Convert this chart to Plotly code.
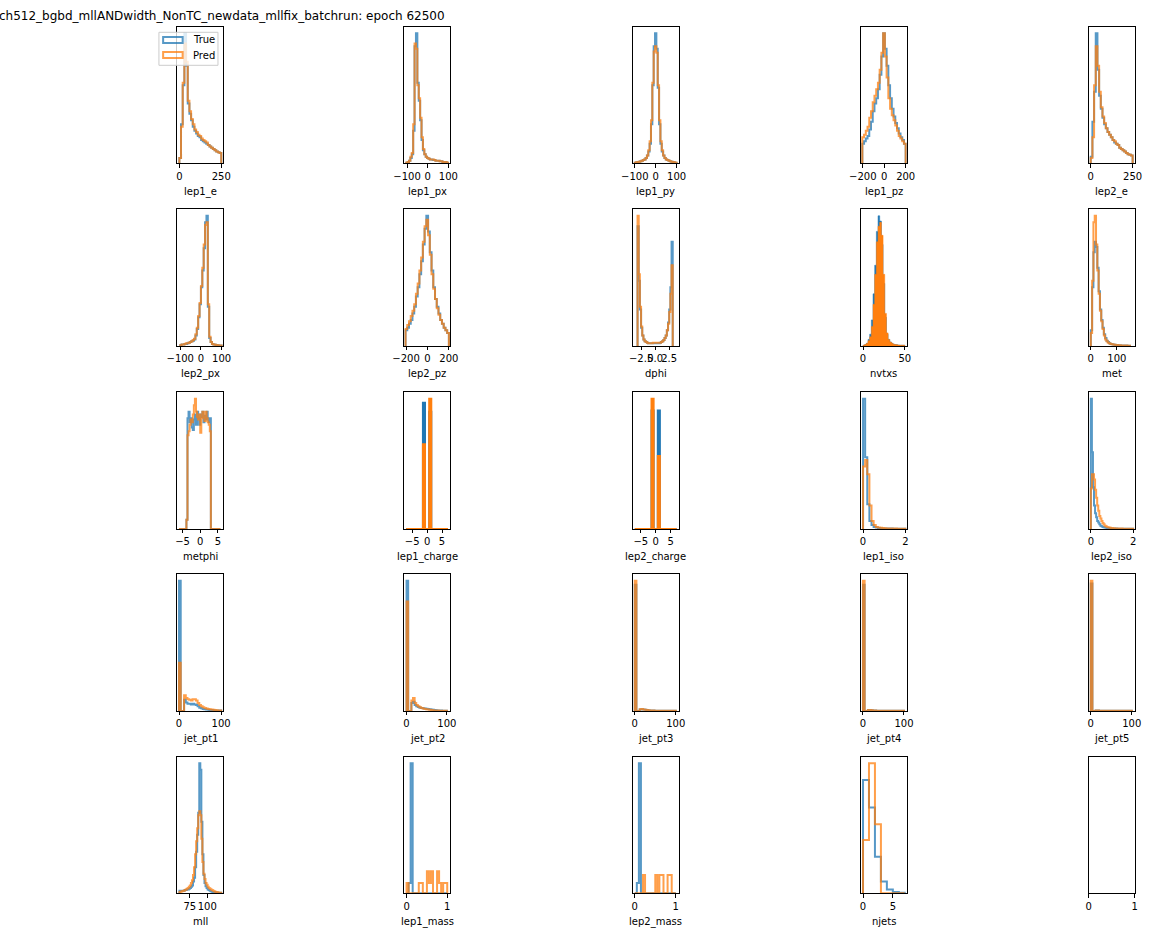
import numpy as np
import plotly.graph_objects as go

# ---------------- data (normalised bin heights) ----------------
variables = ["lep1_e", "lep1_px", "lep1_py", "lep1_pz", "lep2_e",
             "lep2_px", "lep2_pz", "dphi", "nvtxs", "met",
             "metphi", "lep1_charge", "lep2_charge", "lep1_iso", "lep2_iso",
             "jet_pt1", "jet_pt2", "jet_pt3", "jet_pt4", "jet_pt5",
             "mll", "lep1_mass", "lep2_mass", "njets"]

lep1_e_bins = (0, 250)
lep1_e_true = [0.04, 0.30, 0.60, 1.00, 0.75, 0.46, 0.38, 0.33, 0.28, 0.25, 0.23, 0.21, 0.20, 0.18, 0.17,
               0.16, 0.15, 0.14, 0.13, 0.12, 0.11, 0.10, 0.09, 0.085, 0.08]
lep1_e_pred = [0.04, 0.28, 0.62, 0.92, 0.78, 0.48, 0.40, 0.34, 0.30, 0.26, 0.24, 0.22, 0.21, 0.19, 0.18,
               0.17, 0.16, 0.14, 0.13, 0.12, 0.11, 0.10, 0.09, 0.085, 0.08]

lep1_px_bins = (-104, 98)
lep1_px_true = [0.005, 0.01, 0.02, 0.04, 0.07, 0.25, 0.90, 1.00, 0.62, 0.48, 0.33, 0.18, 0.10, 0.07, 0.05,
                0.04, 0.035, 0.03, 0.03, 0.025, 0.025, 0.02, 0.02, 0.02, 0.015, 0.015, 0.01, 0.01, 0.01, 0.005]
lep1_px_pred = [0.005, 0.01, 0.02, 0.05, 0.08, 0.30, 0.92, 0.88, 0.60, 0.50, 0.35, 0.20, 0.11, 0.07, 0.05,
                0.04, 0.035, 0.03, 0.03, 0.03, 0.025, 0.02, 0.02, 0.02, 0.015, 0.015, 0.01, 0.01, 0.01, 0.005]

lep1_py_bins = (-100, 100)
lep1_py_true = [0.005, 0.008, 0.01, 0.012, 0.015, 0.02, 0.025, 0.03, 0.04, 0.06, 0.09, 0.15, 0.30, 0.60, 0.90,
                1.00, 0.88, 0.58, 0.30, 0.15, 0.09, 0.06, 0.04, 0.03, 0.025, 0.02, 0.015, 0.012, 0.01, 0.008, 0.005]
lep1_py_pred = [0.005, 0.008, 0.01, 0.012, 0.015, 0.02, 0.025, 0.03, 0.04, 0.06, 0.10, 0.17, 0.33, 0.62, 0.86,
                0.90, 0.85, 0.60, 0.33, 0.17, 0.10, 0.06, 0.04, 0.03, 0.025, 0.02, 0.015, 0.012, 0.01, 0.008, 0.005]

lep1_pz_bins = (-205, 200)
lep1_pz_true = [0.15, 0.17, 0.19, 0.21, 0.26, 0.32, 0.40, 0.46, 0.50, 0.57, 0.68, 0.82, 1.00, 0.88, 0.75,
                0.60, 0.50, 0.42, 0.36, 0.31, 0.27, 0.23, 0.20, 0.18, 0.15]
lep1_pz_pred = [0.20, 0.22, 0.25, 0.28, 0.35, 0.40, 0.47, 0.52, 0.57, 0.62, 0.72, 0.85, 1.00, 0.82, 0.66,
                0.50, 0.42, 0.37, 0.33, 0.29, 0.25, 0.21, 0.19, 0.17, 0.15]

lep2_e_bins = (0, 250)
lep2_e_true = [0.05, 0.32, 0.55, 1.00, 0.72, 0.52, 0.42, 0.35, 0.30, 0.27, 0.24, 0.22, 0.20, 0.18, 0.16,
               0.15, 0.14, 0.12, 0.11, 0.10, 0.09, 0.08, 0.07, 0.065, 0.06]
lep2_e_pred = [0.04, 0.20, 0.60, 0.90, 0.75, 0.55, 0.43, 0.36, 0.31, 0.27, 0.24, 0.22, 0.20, 0.18, 0.17,
               0.15, 0.14, 0.12, 0.11, 0.10, 0.09, 0.08, 0.07, 0.065, 0.06]

lep2_px_bins = (-100, 100)
lep2_px_true = [0.005, 0.01, 0.01, 0.015, 0.015, 0.02, 0.025, 0.03, 0.035, 0.04, 0.05, 0.08, 0.13, 0.22, 0.32,
                0.45, 0.58, 0.75, 0.95, 1.00, 0.30, 0.06, 0.03, 0.015, 0.01, 0.008, 0.006, 0.005, 0.004, 0.003]
lep2_px_pred = [0.005, 0.01, 0.01, 0.015, 0.02, 0.02, 0.025, 0.03, 0.035, 0.045, 0.055, 0.09, 0.14, 0.23, 0.33,
                0.46, 0.60, 0.78, 0.93, 0.95, 0.32, 0.07, 0.03, 0.015, 0.01, 0.008, 0.006, 0.005, 0.004, 0.003]

lep2_pz_bins = (-205, 200)
lep2_pz_true = [0.12, 0.14, 0.17, 0.20, 0.25, 0.30, 0.38, 0.45, 0.55, 0.65, 0.78, 0.90, 1.00, 0.88, 0.72,
                0.58, 0.45, 0.36, 0.30, 0.25, 0.20, 0.17, 0.14, 0.12, 0.10]
lep2_pz_pred = [0.13, 0.16, 0.19, 0.23, 0.27, 0.32, 0.40, 0.48, 0.58, 0.68, 0.80, 0.92, 0.97, 0.85, 0.70,
                0.55, 0.44, 0.36, 0.29, 0.24, 0.20, 0.17, 0.14, 0.12, 0.10]

dphi_bins = (-3.14, 3.14)
dphi_true = [0.92, 0.50, 0.28, 0.14, 0.08, 0.05, 0.035, 0.03, 0.025, 0.02, 0.02, 0.02, 0.02, 0.02, 0.02,
             0.02, 0.02, 0.02, 0.02, 0.025, 0.03, 0.035, 0.045, 0.06, 0.08, 0.12, 0.18, 0.28, 0.45, 0.80]
dphi_pred = [1.00, 0.55, 0.30, 0.15, 0.08, 0.05, 0.035, 0.03, 0.025, 0.02, 0.02, 0.02, 0.02, 0.025, 0.025,
             0.025, 0.025, 0.025, 0.025, 0.025, 0.03, 0.035, 0.045, 0.06, 0.08, 0.12, 0.17, 0.26, 0.40, 0.62]

nvtxs_bins = (0, 50)
nvtxs_true = [0.005, 0.01, 0.02, 0.05, 0.09, 0.20, 0.40, 0.62, 0.88, 1.00, 0.96, 0.78, 0.48, 0.22, 0.09,
              0.05, 0.03, 0.02, 0.012, 0.01, 0.008, 0.006, 0.005, 0.005, 0.005]
nvtxs_pred = [0.005, 0.01, 0.02, 0.04, 0.07, 0.15, 0.32, 0.55, 0.80, 0.92, 0.95, 0.85, 0.55, 0.25, 0.10,
              0.05, 0.03, 0.02, 0.012, 0.01, 0.008, 0.006, 0.005, 0.005, 0.005]

met_bins = (0, 150)
met_true = [0.12, 0.45, 0.72, 0.80, 0.76, 0.60, 0.42, 0.28, 0.20, 0.14, 0.09, 0.06, 0.04, 0.03, 0.02,
            0.015, 0.012, 0.01, 0.008, 0.007, 0.006, 0.005, 0.005, 0.004, 0.004, 0.003, 0.003, 0.003, 0.002, 0.002]
met_pred = [0.10, 0.50, 0.95, 1.00, 0.78, 0.58, 0.40, 0.27, 0.19, 0.13, 0.08, 0.05, 0.035, 0.025, 0.02,
            0.015, 0.012, 0.01, 0.008, 0.007, 0.006, 0.005, 0.005, 0.004, 0.004, 0.003, 0.003, 0.003, 0.002, 0.002]

metphi_bins = (-6.0, 5.7)
metphi_true = [0, 0, 0, 0, 0, 0, 0, 0.07,
               0.85, 0.90, 0.82, 0.85, 0.78, 0.76, 0.84, 0.88, 0.80, 0.90, 0.85, 0.80, 0.88, 0.86, 0.90,
               0.82, 0.87, 0.84, 0.90, 0.85, 0.82, 0.85,
               0, 0, 0, 0, 0, 0, 0, 0, 0]
metphi_pred = [0, 0, 0, 0, 0, 0, 0, 0.07,
               0.72, 0.75, 0.80, 0.84, 0.82, 0.88, 0.95, 1.00, 0.90, 0.86, 0.84, 0.88, 0.74, 0.85, 0.90,
               0.86, 0.83, 0.90, 0.85, 0.82, 0.80, 0.75,
               0, 0, 0, 0, 0, 0, 0, 0, 0]

lep1_charge_bins = (-7.0, 7.0)
lep1_charge_true = [0, 0, 0, 0, 0, 0, 0, 0, 0.97, 0, 0, 0.90, 0, 0, 0, 0, 0, 0, 0, 0]
lep1_charge_pred = [0, 0, 0, 0, 0, 0, 0, 0, 0.65, 0, 0, 1.00, 0, 0, 0, 0, 0, 0, 0, 0]

lep2_charge_bins = (-7.0, 7.0)
lep2_charge_true = [0, 0, 0, 0, 0, 0, 0, 0, 0.91, 0, 0, 0.91, 0, 0, 0, 0, 0, 0, 0, 0]
lep2_charge_pred = [0, 0, 0, 0, 0, 0, 0, 0, 1.00, 0, 0, 0.56, 0, 0, 0, 0, 0, 0, 0, 0]

lep1_iso_bins = (0, 2)
lep1_iso_true = [1.00, 0.55, 0.19, 0.06, 0.03, 0.015, 0.01, 0.007, 0.005, 0.004, 0.004, 0.003, 0.003, 0.003,
                 0.002, 0.002, 0.002, 0.002, 0.002, 0.002]
lep1_iso_pred = [0.48, 0.53, 0.42, 0.18, 0.06, 0.03, 0.015, 0.01, 0.008, 0.006, 0.005, 0.004, 0.004, 0.003,
                 0.003, 0.003, 0.002, 0.002, 0.002, 0.002]

lep2_iso_bins = (0, 2)
lep2_iso_true = [1.00, 0.59, 0.32, 0.18, 0.12, 0.09, 0.06, 0.05, 0.035, 0.025, 0.02, 0.015, 0.012, 0.01,
                 0.008, 0.007, 0.006, 0.005, 0.005, 0.004, 0.004, 0.003, 0.003, 0.003, 0.003, 0.002, 0.002,
                 0.002, 0.002, 0.002, 0.002, 0.002, 0.002, 0.001, 0.001, 0.001, 0.001, 0.001, 0.001, 0.001]
lep2_iso_pred = [0.31, 0.42, 0.42, 0.38, 0.30, 0.24, 0.18, 0.14, 0.10, 0.08, 0.06, 0.045, 0.035, 0.025,
                 0.02, 0.015, 0.012, 0.01, 0.008, 0.007, 0.006, 0.005, 0.005, 0.004, 0.004, 0.004, 0.003,
                 0.003, 0.003, 0.003, 0.002, 0.002, 0.002, 0.002, 0.002, 0.002, 0.002, 0.001, 0.001, 0.001]

jet_pt1_bins = (0, 100)
jet_pt1_true = [1.00, 0, 0, 0.085, 0.065, 0.055, 0.055, 0.05, 0.055, 0.05, 0.045, 0.035, 0.025, 0.02, 0.015,
                0.012, 0.01, 0.008, 0.007, 0.006, 0.005, 0.004, 0.004, 0.003, 0.003]
jet_pt1_pred = [0.37, 0, 0, 0.12, 0.10, 0.09, 0.085, 0.08, 0.09, 0.09, 0.08, 0.06, 0.045, 0.035, 0.028,
                0.022, 0.018, 0.014, 0.012, 0.01, 0.008, 0.006, 0.005, 0.004, 0.004]

jet_pt2_bins = (0, 100)
jet_pt2_true = [1.00, 0, 0, 0.06, 0.07, 0.045, 0.035, 0.03, 0.025, 0.022, 0.02, 0.018, 0.016, 0.014, 0.012,
                0.01, 0.008, 0.006, 0.005, 0.004, 0.003, 0.003, 0.002, 0.002, 0.002]
jet_pt2_pred = [0.84, 0, 0, 0.08, 0.10, 0.06, 0.045, 0.035, 0.028, 0.022, 0.018, 0.015, 0.012, 0.01, 0.008,
                0.006, 0.005, 0.004, 0.003, 0.003, 0.002, 0.002, 0.002, 0.002, 0.002]

jet_pt3_bins = (0, 100)
jet_pt3_true = [0.97, 0, 0, 0.01, 0.012, 0.01, 0.008, 0.006, 0.005, 0.004, 0.003, 0.003, 0.002, 0.002, 0.002,
                0.001, 0.001, 0.001, 0.001, 0.001, 0.001, 0.001, 0.001, 0.001, 0.001]
jet_pt3_pred = [1.00, 0, 0, 0.012, 0.014, 0.01, 0.008, 0.006, 0.005, 0.004, 0.003, 0.003, 0.002, 0.002, 0.002,
                0.001, 0.001, 0.001, 0.001, 0.001, 0.001, 0.001, 0.001, 0.001, 0.001]

jet_pt4_bins = (0, 100)
jet_pt4_true = [0.97, 0, 0, 0.006, 0.006, 0.005, 0.004, 0.003, 0.002, 0.002, 0.002, 0.001, 0.001, 0.001, 0.001,
                0.001, 0.001, 0.001, 0.001, 0.001, 0.001, 0.001, 0.001, 0.001, 0.001]
jet_pt4_pred = [1.00, 0, 0, 0.007, 0.007, 0.005, 0.004, 0.003, 0.002, 0.002, 0.002, 0.001, 0.001, 0.001, 0.001,
                0.001, 0.001, 0.001, 0.001, 0.001, 0.001, 0.001, 0.001, 0.001, 0.001]

jet_pt5_bins = (0, 100)
jet_pt5_true = [0.98, 0, 0, 0.003, 0.003, 0.002, 0.002, 0.002, 0.001, 0.001, 0.001, 0.001, 0.001, 0.001, 0.001,
                0.001, 0.001, 0.001, 0.001, 0.001, 0.001, 0.001, 0.001, 0.001, 0.001]
jet_pt5_pred = [1.00, 0, 0, 0.004, 0.003, 0.002, 0.002, 0.002, 0.001, 0.001, 0.001, 0.001, 0.001, 0.001, 0.001,
                0.001, 0.001, 0.001, 0.001, 0.001, 0.001, 0.001, 0.001, 0.001, 0.001]

mll_bins = (60, 120)
mll_true = [0.02, 0.02, 0.02, 0.02, 0.02, 0.025, 0.025, 0.03, 0.03, 0.035, 0.04, 0.05, 0.06, 0.09, 0.12,
            0.20, 0.32, 0.45, 0.62, 1.00, 0.95, 0.55, 0.30, 0.14, 0.08, 0.055, 0.04, 0.03, 0.025, 0.02,
            0.015, 0.012, 0.01, 0.01, 0.008, 0.007, 0.006, 0.005, 0.005, 0.004]
mll_pred = [0.01, 0.012, 0.015, 0.018, 0.02, 0.025, 0.03, 0.035, 0.04, 0.05, 0.06, 0.08, 0.10, 0.14, 0.20,
            0.30, 0.40, 0.50, 0.60, 0.63, 0.60, 0.42, 0.24, 0.15, 0.11, 0.08, 0.065, 0.05, 0.04, 0.035,
            0.03, 0.025, 0.02, 0.015, 0.012, 0.01, 0.008, 0.006, 0.005, 0.004]

lep1_mass_bins = (0, 1)
lep1_mass_true = [0, 0.08, 1.00, 0, 0, 0, 0, 0, 0, 0, 0, 0, 0, 0, 0, 0, 0, 0, 0, 0]
lep1_mass_pred = [0.08, 0, 0, 0, 0, 0, 0.08, 0.08, 0, 0, 0.17, 0.08, 0.17, 0, 0, 0.17, 0.08, 0, 0.08, 0.08]

lep2_mass_bins = (0, 1)
lep2_mass_true = [0, 0.08, 1.00, 0, 0, 0, 0, 0, 0, 0, 0, 0, 0, 0, 0, 0, 0, 0, 0, 0]
lep2_mass_pred = [0, 0, 0, 0, 0.14, 0, 0, 0, 0, 0, 0.14, 0, 0.14, 0.14, 0, 0, 0.14, 0.14, 0, 0]

njets_bins = (0, 7)
njets_true = [0.87, 0.66, 0.28, 0.09, 0.03, 0.01, 0.005]
njets_pred = [0.41, 1.00, 0.53, 0, 0, 0, 0]

# ---------------- axis configuration ----------------
x_ranges = {
    "lep1_e": [-12, 262], "lep1_px": [-114, 108], "lep1_py": [-110, 110], "lep1_pz": [-218, 211],
    "lep2_e": [-12, 262], "lep2_px": [-114, 108], "lep2_pz": [-218, 211], "dphi": [-4.0, 4.2],
    "nvtxs": [-2.5, 52.5], "met": [-8, 168], "metphi": [-6.46, 6.5], "lep1_charge": [-7.7, 7.7],
    "lep2_charge": [-7.7, 7.7], "lep1_iso": [-0.1, 2.07], "lep2_iso": [-0.1, 2.07],
    "jet_pt1": [-4, 105], "jet_pt2": [-6, 108], "jet_pt3": [-5, 107], "jet_pt4": [-5, 107],
    "jet_pt5": [-5, 107], "mll": [57, 123], "lep1_mass": [-0.06, 1.07], "lep2_mass": [-0.05, 1.07],
    "njets": [-0.35, 7.35],
}
x_ticks = {
    "lep1_e": [0, 250], "lep1_px": [-100, 0, 100], "lep1_py": [-100, 0, 100], "lep1_pz": [-200, 0, 200],
    "lep2_e": [0, 250], "lep2_px": [-100, 0, 100], "lep2_pz": [-200, 0, 200], "dphi": [-2.5, 0.0, 2.5],
    "nvtxs": [0, 50], "met": [0, 100], "metphi": [-5, 0, 5], "lep1_charge": [-5, 0, 5],
    "lep2_charge": [-5, 0, 5], "lep1_iso": [0, 2], "lep2_iso": [0, 2], "jet_pt1": [0, 100],
    "jet_pt2": [0, 100], "jet_pt3": [0, 100], "jet_pt4": [0, 100], "jet_pt5": [0, 100],
    "mll": [75, 100], "lep1_mass": [0, 1], "lep2_mass": [0, 1], "njets": [0, 5],
}
tick_text_override = {"dphi": ["\u22122.5", "0.0", "2.5"]}
filled_alpha = {"lep1_charge", "lep2_charge"}
filled_solid = {"nvtxs"}

BLUE = "#1f77b4"
ORANGE = "#ff7f0e"
FONT = "DejaVu Sans"
W, H = 1152, 936

# horizontal placement correction (page renders the figure slightly narrower)
XA, XB = 11.5, 0.9818


def px_x(p):
    return ((p - XA) / XB) / W


def px_y(p):
    return 1 - p / H


col_left = [176.7, 403.3, 631.7, 859.7, 1087.3]
row_top = [26.7, 209.3, 392.3, 574.3, 756.7]
pw, ph = 45.9, 136.6


def fmt(v):
    s = ("%g" % v)
    return s.replace("-", "\u2212")


def step_xy(lo, hi, counts):
    edges = np.linspace(lo, hi, len(counts) + 1)
    x = [edges[0]] + list(edges)
    y = [0] + list(counts) + [0]
    return x, y


fig = go.Figure()
annotations = []
layout = {}

for i in range(25):
    r, c = divmod(i, 5)
    k = i + 1
    xname = "xaxis" if k == 1 else f"xaxis{k}"
    yname = "yaxis" if k == 1 else f"yaxis{k}"
    xref = "x" if k == 1 else f"x{k}"
    yref = "y" if k == 1 else f"y{k}"
    x0 = px_x(col_left[c])
    x1 = px_x(col_left[c] + pw)
    ytop = px_y(row_top[r])
    ybot = px_y(row_top[r] + ph)

    if i < len(variables):
        v = variables[i]
        lo, hi = globals()[v + "_bins"]
        tv = globals()[v + "_true"]
        pv = globals()[v + "_pred"]
        ymax = 1.05 * max(max(tv), max(pv))
        for vals, col in ((tv, BLUE), (pv, ORANGE)):
            x, y = step_xy(lo, hi, vals)
            if v in filled_solid:
                fig.add_trace(go.Scatter(x=x, y=y, mode="lines", line=dict(shape="hv", color=col, width=0.5),
                                         fill="tozeroy", fillcolor=col, xaxis=xref, yaxis=yref,
                                         showlegend=False, hoverinfo="skip"))
            elif v in filled_alpha:
                fig.add_trace(go.Scatter(x=x, y=y, mode="lines", line=dict(shape="hv", color=col, width=2),
                                         fill="tozeroy", fillcolor=col, opacity=0.75, xaxis=xref, yaxis=yref,
                                         showlegend=False, hoverinfo="skip"))
            else:
                fig.add_trace(go.Scatter(x=x, y=y, mode="lines", line=dict(shape="hv", color=col, width=2),
                                         opacity=0.75, xaxis=xref, yaxis=yref,
                                         showlegend=False, hoverinfo="skip"))
        xr = x_ranges[v]
        tvals = x_ticks[v]
        ttext = tick_text_override.get(v, [fmt(t) for t in tvals])
        annotations.append(dict(text=v, xref="paper", yref="paper",
                                x=px_x(col_left[c] + pw / 2), y=px_y(row_top[r] + ph + 20.5),
                                xanchor="center", yanchor="top", showarrow=False,
                                font=dict(family=FONT, size=10, color="black")))
    else:
        fig.add_trace(go.Scatter(x=[], y=[], xaxis=xref, yaxis=yref, showlegend=False))
        ymax = 1.0
        xr = [0, 1]
        tvals = [0, 1]
        ttext = ["0", "1"]

    layout[xname] = dict(domain=[x0, x1], range=xr, anchor=yref, showgrid=False, zeroline=False,
                         showline=True, mirror=True, linecolor="black", linewidth=1,
                         ticks="outside", ticklen=3.5, tickwidth=0.8, tickcolor="black",
                         tickvals=tvals, ticktext=ttext, tickangle=0,
                         tickfont=dict(family=FONT, size=10, color="black"), fixedrange=True)
    layout[yname] = dict(domain=[ybot, ytop], range=[0, ymax], anchor=xref, showgrid=False, zeroline=False,
                         showline=True, mirror=True, linecolor="black", linewidth=1,
                         showticklabels=False, ticks="", fixedrange=True)

# title
annotations.append(dict(text="ch512_bgbd_mllANDwidth_NonTC_newdata_mllfix_batchrun: epoch 62500",
                        xref="paper", yref="paper", x=px_x(446), y=px_y(16), xanchor="right",
                        yanchor="middle", showarrow=False, font=dict(family=FONT, size=12, color="black")))

# legend (drawn manually to mimic the patch handles)
shapes = [
    dict(type="rect", xref="paper", yref="paper", x0=px_x(158.3), x1=px_x(217.3), y0=px_y(65.3), y1=px_y(32.3),
         fillcolor="rgba(255,255,255,0.8)", line=dict(color="#cccccc", width=1), layer="above"),
    dict(type="rect", xref="paper", yref="paper", x0=px_x(162.5), x1=px_x(182), y0=px_y(43), y1=px_y(37),
         fillcolor="rgba(0,0,0,0)", line=dict(color=BLUE, width=2), opacity=0.75, layer="above"),
    dict(type="rect", xref="paper", yref="paper", x0=px_x(162.5), x1=px_x(182), y0=px_y(58), y1=px_y(52),
         fillcolor="rgba(0,0,0,0)", line=dict(color=ORANGE, width=2), opacity=0.75, layer="above"),
]
for label, yc in (("True", 40), ("Pred", 55)):
    annotations.append(dict(text=label, xref="paper", yref="paper", x=px_x(190), y=px_y(yc),
                            xanchor="left", yanchor="middle", showarrow=False,
                            font=dict(family=FONT, size=10, color="black")))

fig.update_layout(width=W, height=H, autosize=False, margin=dict(l=0, r=0, t=0, b=0, pad=0),
                  paper_bgcolor="white", plot_bgcolor="white", showlegend=False,
                  annotations=annotations, shapes=shapes, **layout)

fig.write_html("out.html")
